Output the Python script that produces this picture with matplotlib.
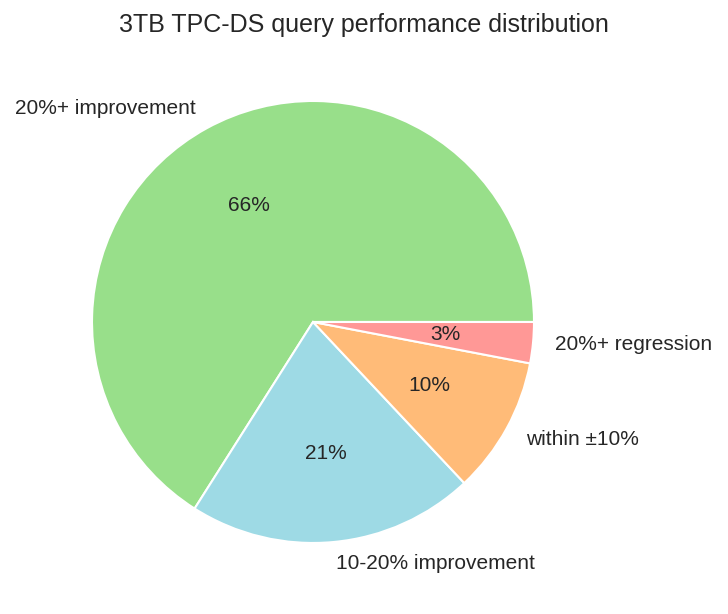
import matplotlib
matplotlib.use("Agg")
import matplotlib.pyplot as plt
import seaborn as sns

categories = ["20%+ improvement", "10-20% improvement", "within \u00b110%", "20%+ regression"]
shares = [66, 21, 10, 3]
colors = ["#98df8a", "#9edae5", "#ffbb78", "#ff9896"]
title = "3TB TPC-DS query performance distribution"

sns.set_style("white")
plt.rcParams["font.family"] = ["Liberation Sans", "DejaVu Sans"]
plt.rcParams["text.color"] = "#262626"

fig = plt.figure(figsize=(7.28, 6.14), dpi=100)
ax = fig.add_axes([0.0505, 0.0257, 0.7589, 0.8998])

wedges, texts, autotexts = ax.pie(
    shares,
    labels=categories,
    colors=colors,
    autopct="%1.0f%%",
    startangle=0,
    wedgeprops=dict(edgecolor="white", linewidth=1.5),
    textprops=dict(fontsize=15, color="#262626"),
)
ax.set_aspect("equal")

fig.text(0.5, 1 - 32 / 614, title, ha="center", va="baseline", fontsize=18, color="#262626")

fig.savefig("out.png", dpi=100)
